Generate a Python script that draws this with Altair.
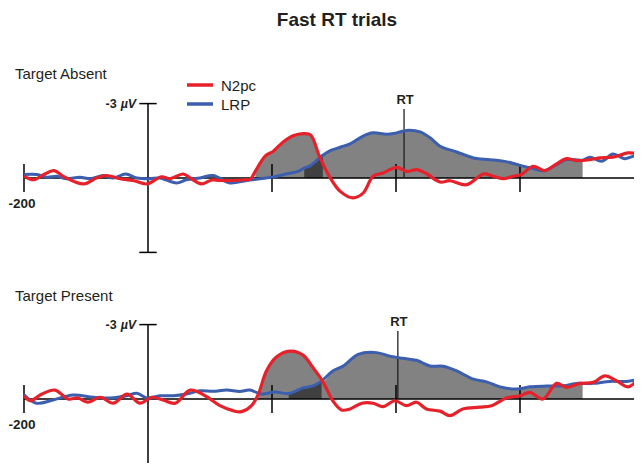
import altair as alt
import pandas as pd

TITLE = "Fast RT trials"
PANEL_NAMES = ["Target Absent", "Target Present"]
SERIES = ["N2pc", "LRP"]
SERIES_COLORS = ["#e6212a", "#3c5eae"]
X_TICKS = [-200, 200, 400, 600]
X_LABEL = "-200"
Y_LABEL = ["-3", "µV"]
Y_AXIS_RANGE = [-3, 3]
RT_LABEL = "RT"
RT_TIME = [413, 403]

# ---- Target Absent ----
TA_N2PC_T = [-200, -184, -168, -152, -134, -104, -83, -67, -45, -24, -2, 22, 35, 57, 70, 86, 103, 116, 138, 157,
             165, 173, 189, 202, 218, 234, 250, 262, 277, 294, 310, 330, 347, 363, 379, 401, 417, 434, 450, 471,
             487, 514, 541, 557, 573, 589, 602, 621, 640, 659, 675, 691, 713, 729, 750, 774, 796]
TA_N2PC_V = [-0.08, 0.07, -0.14, -0.30, -0.03, 0.24, 0.0, -0.10, 0.03, 0.10, 0.24, -0.05, 0.03, -0.16, 0.03, 0.24,
             0.08, 0.10, 0.10, 0.07, 0.05, -0.27, -0.88, -1.08, -1.45, -1.70, -1.79, -1.74, -0.84, 0.0, 0.54, 0.80,
             0.61, -0.07, -0.20, -0.43, -0.27, -0.34, -0.16, 0.16, 0.11, 0.27, -0.16, -0.07, 0.03, -0.07, -0.14,
             -0.47, -0.30, -0.57, -0.78, -0.70, -0.74, -0.81, -0.84, -1.01, -0.95]
TA_LRP_T = [-200, -179, -163, -147, -131, -110, -93, -72, -56, -36, -18, 3, 19, 46, 62, 84, 105, 132, 159, 181,
            202, 224, 242, 252, 262, 277, 282, 294, 310, 326, 347, 363, 385, 401, 417, 439, 455, 471, 498, 525,
            552, 579, 600, 621, 640, 659, 675, 701, 713, 732, 750, 769, 789, 796]
TA_LRP_V = [-0.14, -0.14, -0.03, -0.07, 0.03, -0.03, 0.03, -0.10, 0.0, -0.16, 0.0, 0.03, 0.0, 0.20, 0.07, 0.0,
            -0.10, 0.20, 0.10, 0.03, -0.04, -0.17, -0.27, -0.40, -0.50, -0.82, -0.92, -1.10, -1.24, -1.38, -1.69,
            -1.82, -1.76, -1.82, -1.92, -1.86, -1.62, -1.28, -1.05, -0.81, -0.74, -0.65, -0.51, -0.38, -0.30,
            -0.54, -0.74, -0.72, -0.84, -0.68, -0.97, -0.78, -0.92, -0.88]
TA_SHADE = [173, 277, 701]   # start (N2pc), crossover to LRP, end
TA_DARK = [252, 282]

# ---- Target Present ----
TP_N2PC_T = [-200, -190, -171, -150, -129, -113, -97, -77, -56, -34, -13, 6, 24, 44, 68, 92, 116, 137, 151, 167,
             178, 191, 207, 229, 250, 266, 282, 298, 312, 326, 345, 363, 379, 398, 417, 433, 449, 471, 487, 508,
             535, 554, 578, 600, 616, 637, 659, 675, 697, 718, 737, 756, 774, 793]
TP_N2PC_V = [-0.13, 0.07, -0.20, -0.36, 0.0, -0.04, 0.13, -0.07, 0.17, -0.20, 0.17, -0.07, 0.04, 0.17, -0.36,
             -0.13, 0.27, 0.47, 0.51, 0.27, -0.20, -1.13, -1.69, -1.93, -1.77, -1.27, -0.70, 0.07, 0.44, 0.40,
             0.17, 0.17, 0.31, 0.07, 0.27, 0.13, 0.40, 0.49, 0.67, 0.40, 0.33, 0.27, -0.04, -0.13, -0.27, 0.0,
             -0.63, -0.47, -0.63, -0.67, -0.93, -0.73, -0.49, -0.87]
TP_LRP_T = [-200, -180, -153, -121, -88, -61, -34, -18, -2, 19, 41, 62, 84, 105, 127, 148, 164, 183, 205, 227,
            250, 266, 280, 298, 315, 339, 369, 390, 411, 433, 455, 476, 498, 525, 546, 568, 595, 616, 643, 670,
            691, 701, 718, 745, 772, 793]
TP_LRP_V = [-0.17, 0.17, 0.04, -0.16, -0.07, -0.04, -0.13, -0.23, -0.04, -0.13, -0.13, -0.20, -0.33, -0.31, -0.36,
            -0.30, -0.36, -0.20, -0.28, -0.22, -0.45, -0.53, -0.72, -1.13, -1.33, -1.80, -1.87, -1.73, -1.64,
            -1.56, -1.33, -1.32, -1.13, -0.80, -0.69, -0.49, -0.40, -0.49, -0.52, -0.53, -0.63, -0.63, -0.63,
            -0.71, -0.71, -0.80]
TP_SHADE = [178, 282, 701]
TP_DARK = [227, 280]

# ---- layout / style ----
FONT = "Liberation Sans"
INK = "#231f20"
PX_PER_MS = 0.62
PX_PER_UV = 24.8
WIDTH = 626
X_DOMAIN = [-225.8, -225.8 + WIDTH / PX_PER_MS]
PANEL_LAYOUT = [  # (height, baseline offset from top of panel)
    (227, 142),
    (180, 116),
]
INTERP = "catmull-rom"


def panel(idx, n_t, n_v, l_t, l_v, shade, dark, legend):
    height, base = PANEL_LAYOUT[idx]
    y_dom = [-base / PX_PER_UV, (height - base) / PX_PER_UV]
    x = alt.X("t:Q", scale=alt.Scale(domain=X_DOMAIN, nice=False, zero=False), axis=None)
    y = alt.Y("v:Q", scale=alt.Scale(domain=y_dom, nice=False, zero=False, reverse=True), axis=None)

    n_df = pd.DataFrame({"t": n_t, "v": n_v})
    l_df = pd.DataFrame({"t": l_t, "v": l_v})
    s0, sc, s1 = shade
    grey = [(t, v) for t, v in zip(n_t, n_v) if s0 <= t <= sc] + \
           [(t, v) for t, v in zip(l_t, l_v) if sc < t <= s1]
    grey_df = pd.DataFrame(grey, columns=["t", "v"]).assign(z=0.0)
    dark_df = pd.DataFrame([(t, v) for t, v in zip(l_t, l_v) if dark[0] <= t <= dark[1]],
                           columns=["t", "v"]).assign(z=0.0)

    grey_area = alt.Chart(grey_df).mark_area(color="#828283", interpolate=INTERP).encode(
        x=x, y=y, y2="z:Q")
    dark_area = alt.Chart(dark_df).mark_area(color="#404041", interpolate=INTERP).encode(
        x=x, y=y, y2="z:Q")

    base_df = pd.DataFrame({"t": [X_TICKS[0]], "t2": [X_DOMAIN[1] + 10], "v": [0.0]})
    base_rule = alt.Chart(base_df).mark_rule(color="black", strokeWidth=1.5, clip=True).encode(
        x=x, x2="t2:Q", y=y)
    tick_df = pd.DataFrame({"t": X_TICKS, "v": [-0.56] * len(X_TICKS), "v2": [0.56] * len(X_TICKS)})
    ticks = alt.Chart(tick_df).mark_rule(color="black", strokeWidth=1.5).encode(x=x, y=y, y2="v2:Q")
    yax_df = pd.DataFrame({"t": [0], "v": [Y_AXIS_RANGE[0]], "v2": [Y_AXIS_RANGE[1]]})
    yaxis = alt.Chart(yax_df).mark_rule(color="black", strokeWidth=1.5, clip=True).encode(
        x=x, y=y, y2="v2:Q")
    cap_df = pd.DataFrame({"t": [-14, -14], "t2": [14, 14], "v": Y_AXIS_RANGE})
    caps = alt.Chart(cap_df).mark_rule(color="black", strokeWidth=1.5, clip=True).encode(
        x=x, x2="t2:Q", y=y)

    rt_top = [-2.78, -2.74][idx]
    rt_df = pd.DataFrame({"t": [RT_TIME[idx]], "v": [rt_top], "v2": [0.0]})
    rt_rule = alt.Chart(rt_df).mark_rule(color=INK, strokeWidth=1.3).encode(x=x, y=y, y2="v2:Q")
    rt_text = alt.Chart(pd.DataFrame({"t": [RT_TIME[idx]], "v": [rt_top], "label": [RT_LABEL]})).mark_text(
        font=FONT, fontSize=13, fontWeight="bold", color=INK, baseline="bottom", dy=-2, dx=1).encode(
        x=x, y=y, text="label:N")

    ylab_df = pd.DataFrame({"t": [-19], "v": [Y_AXIS_RANGE[0]], "a": [Y_LABEL[0]], "b": [Y_LABEL[1]]})
    ylab_b = alt.Chart(ylab_df).mark_text(
        font=FONT, fontSize=12.5, fontWeight="bold", fontStyle="italic", color=INK, align="right",
        baseline="middle").encode(x=x, y=y, text="b:N")
    ylab_a = alt.Chart(ylab_df).mark_text(
        font=FONT, fontSize=12.5, fontWeight="bold", color=INK, align="right",
        baseline="middle", dx=-19.5).encode(x=x, y=y, text="a:N")
    xlab = alt.Chart(pd.DataFrame({"t": [X_TICKS[0]], "v": [0.0], "label": [X_LABEL]})).mark_text(
        font=FONT, fontSize=13.5, fontWeight="bold", color=INK, align="center", baseline="top", dy=19,
        dx=-2).encode(x=x, y=y, text="label:N")

    blue_line = alt.Chart(l_df).mark_line(
        strokeWidth=3, interpolate=INTERP, color=SERIES_COLORS[1], clip=True).encode(x=x, y=y)
    red_line = alt.Chart(n_df).mark_line(
        strokeWidth=3.2, interpolate=INTERP, color=SERIES_COLORS[0], clip=True).encode(x=x, y=y)

    name = alt.Chart(pd.DataFrame({"label": [PANEL_NAMES[idx]]})).mark_text(
        font=FONT, fontSize=15, color=INK, align="left", baseline="middle").encode(
        x=alt.value(7), y=alt.value(base - 104 if idx == 0 else base - 103), text="label:N")

    layers = [grey_area, dark_area, base_rule, ticks, yaxis, caps, rt_rule, rt_text, ylab_a, ylab_b, xlab,
              blue_line, red_line, name]
    if legend:
        for i, s in enumerate(SERIES):
            ly = base - 93 + i * 19
            layers.append(alt.Chart(pd.DataFrame({"s": [s]})).mark_rule(
                color=SERIES_COLORS[i], strokeWidth=3.5).encode(
                x=alt.value(179), x2=alt.value(205), y=alt.value(ly)))
            layers.append(alt.Chart(pd.DataFrame({"s": [s]})).mark_text(
                font=FONT, fontSize=15, color=INK, align="left", baseline="middle").encode(
                x=alt.value(213), y=alt.value(ly + 1), text="s:N"))
    return alt.layer(*layers).properties(width=WIDTH, height=height)


p1 = panel(0, TA_N2PC_T, TA_N2PC_V, TA_LRP_T, TA_LRP_V, TA_SHADE, TA_DARK, True)
p2 = panel(1, TP_N2PC_T, TP_N2PC_V, TP_LRP_T, TP_LRP_V, TP_SHADE, TP_DARK, False)

chart = alt.vconcat(p1, p2, spacing=20, bounds="flush").properties(
    title=alt.Title(TITLE, font=FONT, fontSize=19, fontWeight="bold", color=INK, anchor="middle",
                    dx=16, offset=6),
    padding={"top": 3, "left": 0, "right": 0, "bottom": 0},
).configure_view(stroke=None)

chart.save("out.html", embed_options={"renderer": "svg", "actions": False})
